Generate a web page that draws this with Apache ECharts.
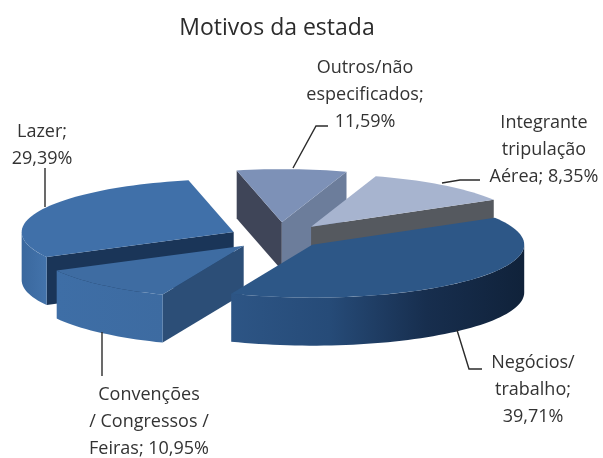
<!DOCTYPE html>
<html lang="pt">

<head>
    <meta charset="UTF-8">
    <title>Motivos da estada</title>
    <style>
        body,
        html {
            padding: 0;
            margin: 0;
            background: #fff;
        }
    </style>
    <script src="https://cdn.jsdelivr.net/npm/echarts@6/dist/echarts.min.js"></script>
</head>

<body>
    <div style="width:603px;height:458px;" id='chart'></div>
    <script>
        // slices clockwise, starting at the narrow wedge on top.
        // in the reference the narrow top wedge has the size of 8,35 and the wider one
        // beside it the size of 11,59, although the label lines cross them over
        var sliceNames = ['Outros', 'Integrante', 'Negocios', 'Convencoes', 'Lazer'];
        var sliceValues = [8.35, 11.59, 39.71, 10.95, 29.39];

        var labelTexts = [
            'Outros/não\nespecificados;\n11,59%',
            'Integrante\ntripulação\nAérea; 8,35%',
            'Negócios/\ntrabalho;\n39,71%',
            'Convenções\n/ Congressos /\nFeiras; 10,95%',
            'Lazer;\n29,39%'
        ];

        var titleText = 'Motivos da estada';

        // layout
        var cx = 276, cy = 237, rx = 212, ry = 53, depth = 48;
        var firstAngle = -12.3;
        var explode = [0.28, 0.25, 0.22, 0.22, 0.22];
        var nudgeX = [3, 2, 1, -1, 0];
        var paintOrder = [0, 1, 4, 3, 2]; // back to front

        function hGrad(stops) {
            return new echarts.graphic.LinearGradient(0, 0, 1, 0, stops.map(function (c, i) {
                return { offset: i / (stops.length - 1), color: c };
            }));
        }

        var sliceStyles = [
            { top: '#7d91b7', wallA: '#3f4558', wallB: '#6c7d9b', arc: '#3f4558' },
            { top: '#a7b4cf', wallA: null, wallB: '#55595f', arc: '#55595f' },
            { top: '#2d5787', wallA: null, wallB: null, arc: hGrad(['#2d5585', '#264b78', '#172e4e', '#10223a']) },
            { top: '#3e6ca2', wallA: null, wallB: null, wallC: '#2c4e77', arc: hGrad(['#3e6ea6', '#3d6ba1']) },
            { top: '#4070a9', wallA: '#1a3558', wallB: null, arc: hGrad(['#3a689e', '#4373ab']) }
        ];

        // [from, elbow..., to] of the label lines
        var leaderLines = [
            [[293, 168], [316, 126], [328, 126]],
            [[442, 183], [460, 180], [480, 180]],
            [[457, 330], [469, 369], [482, 369]],
            [[102, 332], [102, 376]],
            [[45, 207], [45, 168]]
        ];
        var labelPos = [[365, 95], [544, 150], [533, 390], [149, 422], [42, 145]];

        var total = sliceValues.reduce(function (a, b) { return a + b; }, 0);
        var rows = [];
        var acc = firstAngle;
        var angles = sliceValues.map(function (v) {
            var a = [acc, acc + v / total * 360];
            acc = a[1];
            return a;
        });
        paintOrder.forEach(function (i) {
            rows.push({ name: sliceNames[i], value: [sliceValues[i], angles[i][0], angles[i][1], i] });
        });

        function onRim(x0, y0, deg) {
            var t = deg * Math.PI / 180;
            return [x0 + rx * Math.sin(t), y0 - ry * Math.cos(t)];
        }

        function arcPoints(x0, y0, a0, a1) {
            var pts = [];
            var n = Math.max(2, Math.ceil((a1 - a0) / 2));
            for (var k = 0; k <= n; k++) {
                pts.push(onRim(x0, y0, a0 + (a1 - a0) * k / n));
            }
            return pts;
        }

        function down(p) {
            return [p[0], p[1] + depth];
        }

        function quad(a, b, fill) {
            return { type: 'polygon', shape: { points: [a, b, down(b), down(a)] }, style: { fill: fill } };
        }

        function renderSlice(params, api) {
            var a0 = api.value(1), a1 = api.value(2), i = api.value(3);
            var st = sliceStyles[i];
            var mid = (a0 + a1) / 2 * Math.PI / 180;
            // the apex moves out along the middle of the slice
            var x0 = cx + explode[i] * rx * Math.sin(mid) + nudgeX[i];
            var y0 = cy - explode[i] * ry * Math.cos(mid);
            var apex = [x0, y0];
            var children = [];

            if (st.wallA) children.push(quad(apex, onRim(x0, y0, a0), st.wallA));
            if (st.wallB) children.push(quad(apex, onRim(x0, y0, a1), st.wallB));
            if (st.wallC) children.push(quad(apex, onRim(x0, y0, a0), st.wallC));

            // outer wall, only the part turned to the viewer
            var f0 = Math.max(a0, 90), f1 = Math.min(a1, 270);
            if (f1 > f0) {
                var rim = arcPoints(x0, y0, f0, f1);
                children.push({
                    type: 'polygon',
                    shape: { points: rim.concat(rim.map(down).reverse()) },
                    style: { fill: st.arc }
                });
            }

            children.push({
                type: 'polygon',
                shape: { points: [apex].concat(arcPoints(x0, y0, a0, a1)) },
                style: { fill: st.top }
            });
            return { type: 'group', children: children };
        }

        var labelFont = '"Open Sans", sans-serif';
        var graphics = [];
        leaderLines.forEach(function (pts) {
            graphics.push({
                type: 'polyline',
                silent: true,
                z: 10,
                shape: { points: pts },
                style: { stroke: '#2b2b2b', lineWidth: 1.4, fill: null }
            });
        });
        labelTexts.forEach(function (txt, i) {
            graphics.push({
                type: 'text',
                silent: true,
                z: 10,
                x: labelPos[i][0],
                y: labelPos[i][1],
                style: {
                    text: txt,
                    fill: '#333',
                    font: '18px ' + labelFont,
                    lineHeight: 27,
                    align: 'center',
                    verticalAlign: 'middle'
                }
            });
        });

        var dom = document.getElementById('chart');
        var myChart = echarts.init(dom, null, { renderer: 'canvas' });
        myChart.setOption({
            animation: false,
            backgroundColor: '#fff',
            title: {
                text: titleText,
                left: 272,
                top: 12,
                textAlign: 'center',
                textStyle: {
                    color: '#2b2b2b',
                    fontFamily: 'Open Sans',
                    fontSize: 23,
                    fontWeight: 'normal'
                }
            },
            graphic: graphics,
            series: [{
                type: 'custom',
                coordinateSystem: 'none',
                silent: true,
                renderItem: renderSlice,
                data: rows
            }]
        });
    </script>
</body>

</html>
